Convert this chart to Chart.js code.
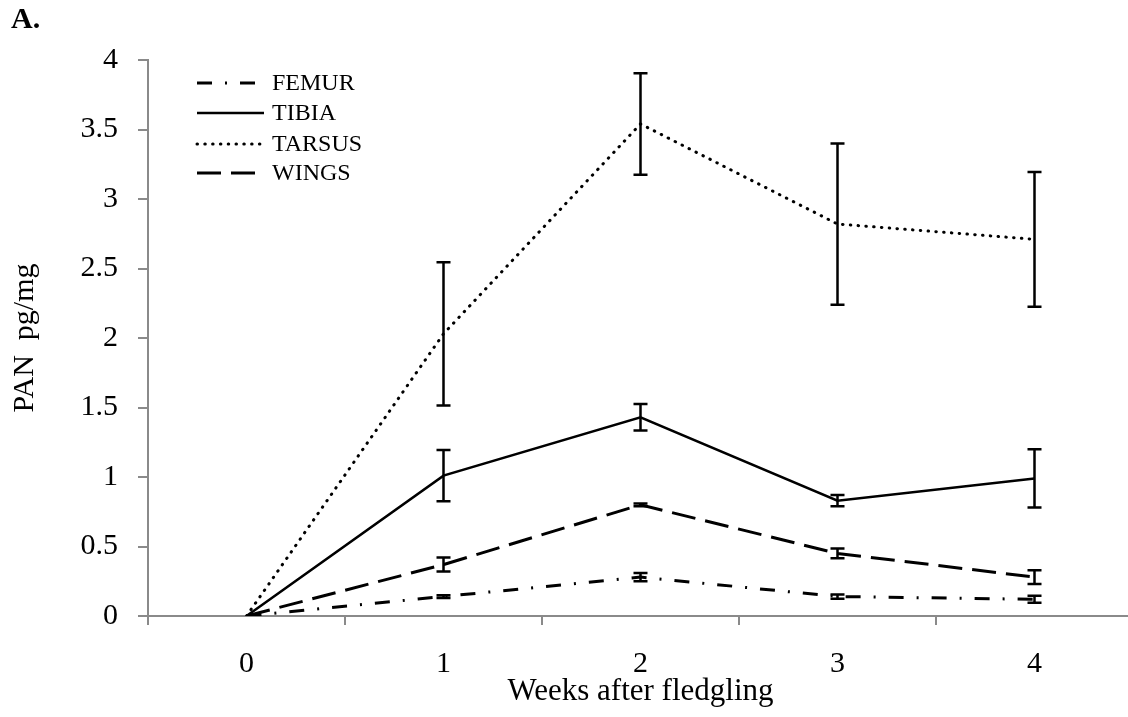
<!DOCTYPE html>
<html>
<head>
<meta charset="utf-8">
<script src="https://cdn.jsdelivr.net/npm/chart.js@4/dist/chart.umd.min.js"></script>
<style>
  html, body { margin: 0; padding: 0; background: #fff; overflow: hidden; }
  #wrap { width: 1140px; height: 717px; }
</style>
</head>
<body>
<div id="wrap"><canvas id="c" width="1140" height="717"></canvas></div>
<script>
// Weeks after fledgling
const weeks = ['0', '1', '2', '3', '4'];

// PAN concentration (pg/mg) by bone, with standard errors
const femur     = [0, 0.14, 0.28, 0.14, 0.12];
const femurErr  = [0, 0.01, 0.03, 0.015, 0.025];
const tibia     = [0, 1.01, 1.43, 0.83, 0.99];
const tibiaErr  = [0, 0.185, 0.095, 0.04, 0.21];
const tarsus    = [0, 2.03, 3.54, 2.82, 2.71];
const tarsusErr = [0, 0.515, 0.365, 0.58, 0.485];
const wings     = [0, 0.37, 0.80, 0.45, 0.28];
const wingsErr  = [0, 0.05, 0.01, 0.035, 0.05];

// y axis range
const yMin = 0, yMax = 4, yStep = 0.5;

const SERIF = "'Liberation Serif', 'Times New Roman', serif";
const AXIS_GREY = '#8a8a8a';

function series(label, data, err, dash, width, cap) {
  return {
    label, data, err,
    borderColor: '#000',
    backgroundColor: '#000',
    borderWidth: width,
    borderDash: dash,
    borderCapStyle: cap,
    pointRadius: 0,
    pointHoverRadius: 0,
    tension: 0,
    fill: false
  };
}

// vertical error bars with caps
const errorBars = {
  id: 'errorBars',
  afterDatasetsDraw(chart) {
    const { ctx, scales: { x, y } } = chart;
    ctx.save();
    ctx.strokeStyle = '#000';
    ctx.lineWidth = 2.5;
    ctx.setLineDash([]);
    ctx.lineCap = 'butt';
    chart.data.datasets.forEach(ds => {
      ds.data.forEach((v, i) => {
        const e = ds.err[i];
        if (!e) return;
        const px = x.getPixelForValue(i);
        const top = y.getPixelForValue(v + e);
        const bot = y.getPixelForValue(v - e);
        ctx.beginPath();
        ctx.moveTo(px, top); ctx.lineTo(px, bot);
        ctx.moveTo(px - 7, top); ctx.lineTo(px + 7, top);
        ctx.moveTo(px - 7, bot); ctx.lineTo(px + 7, bot);
        ctx.stroke();
      });
    });
    ctx.restore();
  }
};

// legend inside the plot, top-left, plus the panel letter
const innerLegend = {
  id: 'innerLegend',
  afterDraw(chart) {
    const { ctx } = chart;
    const rows = [83, 113, 144, 173];
    ctx.save();
    chart.data.datasets.forEach((ds, i) => {
      const yy = rows[i];
      ctx.strokeStyle = '#000';
      ctx.lineWidth = ds.borderWidth;
      ctx.lineCap = ds.borderCapStyle;
      ctx.setLineDash(ds.borderDash);
      ctx.beginPath();
      ctx.moveTo(197, yy);
      ctx.lineTo(264, yy);
      ctx.stroke();
      ctx.setLineDash([]);
      ctx.fillStyle = '#000';
      ctx.font = '24px ' + SERIF;
      ctx.textAlign = 'left';
      ctx.textBaseline = 'middle';
      ctx.fillText(ds.label, 272, yy + 1);
    });
    ctx.font = 'bold 30px ' + SERIF;
    ctx.textAlign = 'left';
    ctx.textBaseline = 'alphabetic';
    ctx.fillText('A.', 11, 28);
    ctx.restore();
  }
};

new Chart(document.getElementById('c'), {
  type: 'line',
  data: {
    labels: weeks,
    datasets: [
      series('FEMUR', femur, femurErr, [15, 13, 2, 13], 3, 'butt'),
      series('TIBIA', tibia, tibiaErr, [], 2.5, 'butt'),
      series('TARSUS', tarsus, tarsusErr, [0.5, 7.3], 3, 'round'),
      series('WINGS', wings, wingsErr, [24, 10], 3, 'butt')
    ]
  },
  options: {
    responsive: false,
    animation: false,
    devicePixelRatio: 1,
    layout: { padding: { top: 60, right: 7, left: 0, bottom: 0 } },
    plugins: { legend: { display: false }, tooltip: { enabled: false } },
    scales: {
      x: {
        type: 'category',
        offset: true,
        grid: { offset: true, drawOnChartArea: false, drawTicks: true, tickLength: 9, color: AXIS_GREY, lineWidth: 2 },
        border: { color: AXIS_GREY, width: 2 },
        ticks: { color: '#000', font: { family: SERIF, size: 30 }, padding: 21, maxRotation: 0 },
        title: { display: true, text: 'Weeks after fledgling', color: '#000', font: { family: SERIF, size: 31 }, padding: { top: 0, bottom: 7 } },
        afterFit(scale) { scale.height = 101; }
      },
      y: {
        min: yMin, max: yMax,
        ticks: {
          stepSize: yStep, color: '#000', font: { family: SERIF, size: 30 }, padding: 20,
          callback: v => String(Math.round(v * 10) / 10)
        },
        grid: { drawOnChartArea: false, drawTicks: true, tickLength: 10, color: AXIS_GREY, lineWidth: 2 },
        border: { color: AXIS_GREY, width: 2 },
        title: { display: true, text: 'PAN  pg/mg', color: '#000', font: { family: SERIF, size: 30 }, padding: { top: 7, bottom: 0 } },
        afterFit(scale) { scale.width = 148; }
      }
    }
  },
  plugins: [errorBars, innerLegend]
});
</script>
</body>
</html>
